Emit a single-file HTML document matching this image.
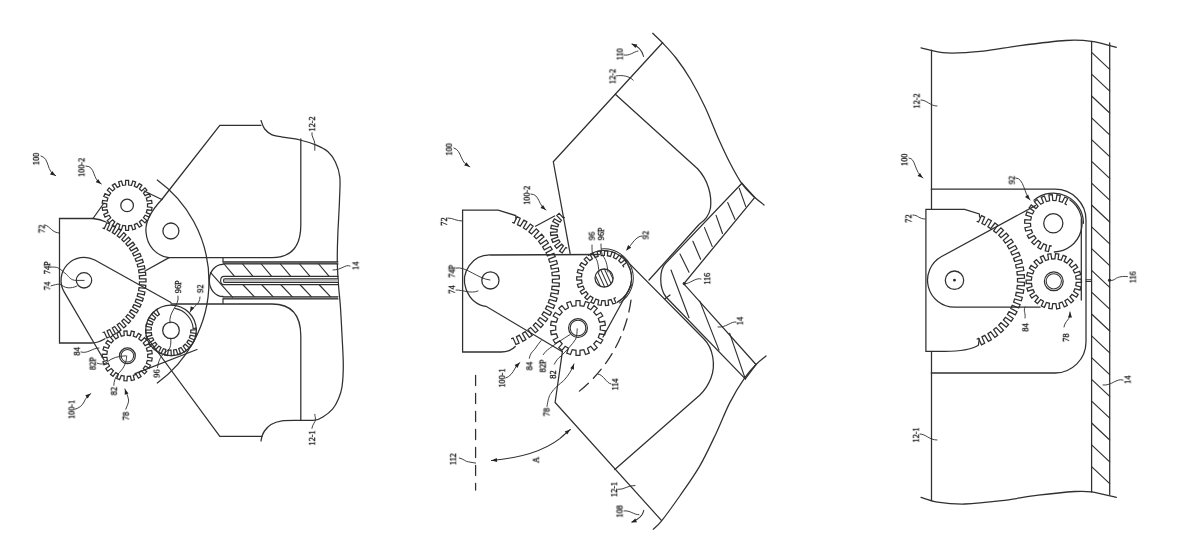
<!DOCTYPE html>
<html><head><meta charset="utf-8"><style>
html,body{margin:0;padding:0;background:#fff;width:1200px;height:543px;overflow:hidden}
svg{display:block}
svg path,svg circle{fill:none;stroke:#303030;stroke-linejoin:miter;stroke-miterlimit:3;stroke-linecap:round}
svg text{will-change:transform;font-family:"Liberation Serif",serif;fill:#111;stroke:#111;stroke-width:0.3px;text-anchor:middle;dominant-baseline:central}
</style></head><body>
<svg width="1200" height="543" viewBox="0 0 1200 543">
<path d="M161.8 199.5L219.8 125.3L261 125.3" stroke-width="1.26" />
<path d="M261 120.5C261.6 121.9 262.8 126.6 264.7 129C266.6 131.4 269.2 133.6 272.1 134.9C275.1 136.2 277.8 136.2 282.4 137.1C287 137.9 294.4 138.7 300 140C305.6 141.3 311.6 143.2 316.3 145.2C321 147.2 324.8 149 328 151.8C331.2 154.6 333.4 157.9 335.4 162.1C337.4 166.3 339.1 170.6 339.8 176.9C340.5 183.2 339.8 190.3 339.5 200C339.2 209.7 338.2 224.7 337.8 235C337.4 245.3 337.2 253.7 337.3 262C337.4 270.3 338 277.8 338.5 285C339 292.2 339.7 296.7 340.3 305C340.9 313.3 341.5 325 342 335C342.5 345 343.3 356.3 343.3 365C343.3 373.7 342.8 381.4 342 387C341.2 392.6 340 395.2 338.4 398.9C336.8 402.6 335 406.3 332.5 409.2C330 412.1 326.6 414.7 323.6 416.5C320.7 418.3 318.7 419.6 314.8 420.2C310.9 420.8 305.5 420.2 300 420.3C294.5 420.4 286.8 420.1 282 420.8C277.2 421.5 273.9 422.8 271 424.5C268.1 426.2 266 429 264.5 431C263 433 262.6 434.7 262 436.4C261.4 438.1 261.2 440.2 261 441" stroke-width="1.26" />
<path d="M262 436.4L219.8 436.4L146 336" stroke-width="1.26" />
<path d="M300.8 139L300.8 225C300.8 245 292 257.6 272 257.6L169 257.6" stroke-width="1.26" />
<path d="M300.8 420.3L300.8 336C300.8 316 292 304 272 304L171 304" stroke-width="1.26" />
<rect x="223" y="261.8" width="115" height="2.1" style="fill:#999;stroke:none"/>
<rect x="223" y="296.6" width="115" height="2.2" style="fill:#999;stroke:none"/>
<rect x="223" y="278.6" width="115" height="4.1" style="fill:#bbb;stroke:none"/>
<path d="M223 257.6L223 262M223 299L223 303.6" stroke-width="1.15" />
<path d="M223 261.8L338 261.8M223 263.9L338 263.9M223 296.7L338 296.7M223 298.9L338 298.9" stroke-width="1.15" />
<path d="M223 264.3A13.7 16.1 0 0 0 223 296.5" stroke-width="1.26" />
<path d="M338 276.4L224 276.4C219.5 276.4 219.5 284.6 224 284.6L338 284.6" stroke-width="1.15" />
<path d="M338 278.8L225 278.8C223 278.8 223 282.5 225 282.5L338 282.5" stroke-width="1.03" />
<path d="M224.1 264L234.1 275.8M242.6 264L252.6 275.8M261.3 264L271.3 275.8M280.4 264L290.4 275.8M299.6 264L309.6 275.8M318.7 264L328.7 275.8M243.2 285L254.2 296.7M262 285L273 296.7M281.1 285L292.1 296.7M300.3 285L311.3 296.7M319.4 285L330.4 296.7M210.6 272.7L232.5 297.2" stroke-width="1.15" />
<path d="M157.3 180A125.5 125.5 0 0 1 157.3 383" stroke-width="1.26" />
<path d="M93 218.5L59.5 218.5L59.5 343L91.5 343C96 343 101 341 105 338.7" stroke-width="1.26" />
<path d="M93 218.5C98 219 102 220 106 222" stroke-width="1.26" />
<path d="M93 218.5L104 203M144.2 191L161.8 199.5" stroke-width="1.26" />
<path d="M161.8 199.5C150 212 145 222 146 232C147 246 156 256 169 257.6" stroke-width="1.26" />
<circle cx="170.9" cy="231" r="8" stroke-width="1.26" />
<path d="M145 271L169 257.6" stroke-width="1.26" />
<path d="M147.5 206.9L152 207.5L151.6 210.4L147.1 209.8L146.3 212.6L150.4 214.4L149.2 217.1L145.1 215.2L143.5 217.7L146.9 220.6L145 222.9L141.6 219.9L139.4 221.8L141.9 225.6L139.3 227.2L136.9 223.4L134.3 224.6L135.6 228.9L132.7 229.8L131.5 225.4L128.6 225.8L128.6 230.4L125.6 230.4L125.6 225.8L122.7 225.4L121.5 229.8L118.6 228.9L119.9 224.6L117.3 223.4L114.9 227.2L112.3 225.6L114.8 221.8L112.6 219.9L109.2 222.9L107.3 220.6L110.7 217.7L109.1 215.2L105 217.1L103.8 214.4L107.9 212.6L107.1 209.8L102.6 210.4L102.2 207.5L106.7 206.9L106.7 203.9L102.2 203.3L102.6 200.4L107.1 201L107.9 198.2L103.8 196.4L105 193.7L109.1 195.6L110.7 193.1L107.3 190.2L109.2 187.9L112.6 190.9L114.8 189L112.3 185.2L114.9 183.6L117.3 187.4L119.9 186.2L118.6 181.9L121.5 181L122.7 185.4L125.6 185L125.6 180.4L128.6 180.4L128.6 185L131.5 185.4L132.7 181L135.6 181.9L134.3 186.2L136.9 187.4L139.3 183.6L141.9 185.2L139.4 189L141.6 190.9L145 187.9L146.9 190.2L143.5 193.1L145.1 195.6L149.2 193.7L150.4 196.4L146.3 198.2L147.1 201L151.6 200.4L152 203.3L147.5 203.9Z" stroke-width="1.26" />
<circle cx="127.1" cy="205.4" r="6.3" stroke-width="1.26" />
<path d="M103 228.1L104.3 228.6L106.9 222.7L109.7 223.9L107.1 229.8L109.7 231.1L112.8 225.4L115.5 226.9L112.3 232.6L114.7 234.1L118.5 228.8L121 230.5L117.2 235.9L119.5 237.6L123.8 232.7L126 234.7L121.8 239.6L123.8 241.6L128.6 237.2L130.6 239.5L125.9 243.9L127.7 246.1L132.9 242.2L134.7 244.6L129.5 248.5L131.1 250.9L136.7 247.6L138.2 250.2L132.6 253.5L133.9 256L139.8 253.4L141.1 256.1L135.2 258.8L136.2 261.5L142.4 259.4L143.3 262.3L137.2 264.4L137.9 267.1L144.3 265.7L144.9 268.7L138.6 270.1L139 272.9L145.5 272.2L145.8 275.2L139.3 275.9L139.5 278.8L146 278.8L146 281.8L139.5 281.8L139.3 284.7L145.8 285.4L145.5 288.4L139 287.7L138.6 290.5L144.9 291.9L144.3 294.9L137.9 293.5L137.2 296.2L143.3 298.3L142.4 301.2L136.2 299.1L135.2 301.8L141.1 304.5L139.8 307.2L133.9 304.6L132.6 307.1L138.2 310.4L136.7 313L131.1 309.7L129.5 312.1L134.7 316L132.9 318.4L127.7 314.5L125.9 316.7L130.6 321.1L128.6 323.4L123.8 319L121.8 321L126 325.9L123.8 327.9L119.5 323L117.2 324.7L121 330.1L118.5 331.8L114.7 326.5L112.3 328L115.5 333.7L112.8 335.2L109.7 329.5L107.1 330.8L109.7 336.7L106.9 337.9L104.3 332L103 332.5" stroke-width="1.26" />
<path d="M171 302.5L94.8 260A23 23 0 0 0 64.4 292.3L104 360" stroke-width="1.26" />
<circle cx="84" cy="280.3" r="7.7" stroke-width="1.26" />
<path d="M147.7 357.3L152.2 358L151.7 361.1L147.3 360.4L146.4 363.3L150.5 365.2L149.1 368L145.1 366.1L143.3 368.6L146.7 371.6L144.5 373.9L141.2 370.8L138.8 372.7L141.1 376.6L138.4 378.2L136.2 374.3L133.3 375.4L134.4 379.8L131.3 380.5L130.4 376.1L127.3 376.3L127 380.8L123.9 380.6L124.2 376.1L121.3 375.4L119.6 379.6L116.7 378.5L118.4 374.3L115.8 372.7L113 376.3L110.5 374.3L113.4 370.8L111.3 368.6L107.6 371.2L105.8 368.6L109.5 366.1L108.2 363.3L103.9 364.7L103 361.7L107.3 360.4L106.9 357.3L102.3 357.4L102.3 354.2L106.9 354.3L107.3 351.2L103 349.9L103.9 346.9L108.2 348.3L109.5 345.6L105.8 343L107.6 340.4L111.3 343L113.4 340.8L110.5 337.3L113 335.3L115.8 338.9L118.4 337.3L116.7 333.1L119.6 332L121.3 336.2L124.2 335.5L123.9 331L127 330.8L127.3 335.3L130.4 335.5L131.3 331.1L134.4 331.8L133.3 336.2L136.2 337.3L138.4 333.4L141.1 335L138.8 338.9L141.2 340.8L144.5 337.7L146.7 340L143.3 343L145.1 345.6L149.1 343.6L150.5 346.4L146.4 348.3L147.3 351.2L151.7 350.5L152.2 353.6L147.7 354.3Z" stroke-width="1.26" />
<circle cx="127.4" cy="355.8" r="7.9" stroke-width="1.26" />
<circle cx="127.4" cy="355.8" r="6.3" stroke-width="1.03" />
<circle cx="171" cy="330.4" r="25.3" stroke-width="1.26" />
<path d="M196.2 328.2L196.3 329.6L190.8 330L190.7 332.6L196.1 333.5L195.6 336.3L190.2 335.2L189.4 337.7L194.4 340L193.2 342.5L188.3 340.1L186.9 342.3L191.1 345.8L189.3 347.9L185.2 344.2L183.2 346L186.4 350.5L184.1 352.1L181 347.5L178.7 348.6L180.6 353.8L177.9 354.7L176.2 349.5L173.6 350L174.1 355.5L171.3 355.7L171 350.2L168.4 350L167.4 355.4L164.7 354.9L165.8 349.5L163.4 348.7L161 353.6L158.5 352.4L161 347.5L158.8 346L155.3 350.2L153.1 348.3L156.9 344.3L155.2 342.3L150.6 345.4L149.1 343L153.7 340.1L152.6 337.7L147.4 339.5L146.5 336.8L151.8 335.2L151.3 332.7L145.8 333L145.7 330.2L151.2 330L151.4 327.4L146 326.3L146.6 323.6L152 324.9L152.9 322.4L148 319.9L149.3 317.4L154.1 320.1L155.6 317.9L151.5 314.3L153.4 312.2L157.4 316L159.4 314.3L156.4 309.7L157.6 308.9" stroke-width="1.26" />
<circle cx="171" cy="330.4" r="8.3" stroke-width="1.26" />
<path d="M174.9 308.4A22.3 22.3 0 0 1 193.2 328.5" stroke-width="1.15" />
<path d="M193.2151417674459 328.4564269367272L196.20372586172115 328.19495970848425" stroke-width="1.15" />
<path d="M135 373.7L197 349.5" stroke-width="1.26" />
<text transform="translate(36 159) rotate(-90) scale(0.9 1)" font-size="9.2">100</text>
<path d="M41 156C50 158 46 172 55.7 175.7" stroke-width="0.92" />
<path d="M55.7 175.7L50 174.4L52.2 171.1Z" style="fill:#222;stroke:none"/>
<text transform="translate(81.4 167.4) rotate(-90) scale(0.9 1)" font-size="9.2">100-2</text>
<path d="M86 166C96 166 92 180 101.3 184" stroke-width="0.92" />
<path d="M101.3 184L95.8 182.3L98.1 179.1Z" style="fill:#222;stroke:none"/>
<text transform="translate(41.6 228.8) rotate(-90) scale(0.9 1)" font-size="9.2">72</text>
<path d="M45 225C50 226 52 233 59.5 233" stroke-width="0.92" />
<text transform="translate(47.1 267.7) rotate(-90) scale(0.9 1)" font-size="9.2">74P</text>
<path d="M50.4 267.1C53 267 56 267 57.6 267.7C61 269 63 272 66.4 274.3C69 277 71 280.4 76 280.4L84.1 280.4" stroke-width="0.92" />
<text transform="translate(47.1 285.9) rotate(-90) scale(0.9 1)" font-size="9.2">74</text>
<path d="M51 285.9C54 285 57 284 59.8 284.2C62 285 64 287.5 68 287.8C71 288 74 287.5 77 286" stroke-width="0.92" />
<text transform="translate(76.8 351.3) rotate(-90) scale(0.9 1)" font-size="9.2">84</text>
<path d="M81 352C88 354 92 348 99 348" stroke-width="0.92" />
<text transform="translate(92.6 363.5) rotate(-90) scale(0.9 1)" font-size="9.2">82P</text>
<path d="M97.3 363.2C100 364 103 365 107 362C112 358 118 356 125.8 355.8" stroke-width="0.92" />
<text transform="translate(113.8 391) rotate(-90) scale(0.9 1)" font-size="9.2">82</text>
<path d="M113.8 385.3C114 381 115 378 118 374C123 369 126.5 364 126.7 356" stroke-width="0.92" />
<text transform="translate(178.1 286.8) rotate(-90) scale(0.9 1)" font-size="9.2">96P</text>
<path d="M178 296C180 305 168 312 170 323" stroke-width="0.92" />
<text transform="translate(200.2 288.7) rotate(-90) scale(0.9 1)" font-size="9.2">92</text>
<path d="M200 297C200 305 193 306 190 312" stroke-width="0.92" />
<path d="M190 312L190.7 306.2L194.2 308Z" style="fill:#222;stroke:none"/>
<text transform="translate(156.6 373.5) rotate(-90) scale(0.9 1)" font-size="9.2">96</text>
<path d="M157.5 367.5C158 363 159.5 359 161.5 356.4C164 352 168 351 169.8 348.1C171 345 171 341 170.7 338.1" stroke-width="0.92" />
<text transform="translate(71.5 409.5) rotate(-90) scale(0.9 1)" font-size="9.2">100-1</text>
<path d="M75.1 409.2C79 408 82 406 84 402C86 398 87 396 90.8 393.6" stroke-width="0.92" />
<path d="M90.8 393.6L87.7 398.5L85.3 395.3Z" style="fill:#222;stroke:none"/>
<text transform="translate(125.8 416) rotate(-90) scale(0.9 1)" font-size="9.2">78</text>
<path d="M125.8 409.2C127 406 129 402 128.6 400C128 396 126 392 124.9 389" stroke-width="0.92" />
<path d="M124.9 389L128.5 393.6L124.7 394.8Z" style="fill:#222;stroke:none"/>
<text transform="translate(311.9 124) rotate(-90) scale(0.9 1)" font-size="9.2">12-2</text>
<path d="M311.9 132.7C311 136 314.8 140 314.8 143.7L314.8 150.3" stroke-width="0.92" />
<text transform="translate(311.9 438) rotate(-90) scale(0.9 1)" font-size="9.2">12-1</text>
<path d="M311.9 428.3C312.5 424 315.5 422 315.5 419.5C315.5 417 314.8 416 314.8 414.3" stroke-width="0.92" />
<text transform="translate(355.5 265.8) rotate(-90) scale(0.9 1)" font-size="9.2">14</text>
<path d="M350 266C345 264 342 270 333 270" stroke-width="0.92" />
<path d="M516 218.5L515.7 215.6L498.2 210.1L462.6 210.1L462.6 352L501 352C507 352 512 350 515.3 346.5" stroke-width="1.26" />
<circle cx="490.4" cy="280.4" r="8.6" stroke-width="1.26" />
<path d="M599.4 254.5L490.4 255A25.4 25.4 0 0 0 466 289C470 300 478 305.7 486 306.3L562.4 351.7" stroke-width="1.26" />
<path d="M512.6 222.5L514.1 223.1L517 216.7L520.2 218.2L517.4 224.6L520.3 226.1L523.9 220.1L526.9 221.8L523.4 227.9L526.1 229.7L530.3 224.1L533.1 226.2L528.9 231.8L531.5 233.9L536.3 228.9L538.8 231.2L534.1 236.4L536.3 238.7L541.7 234.2L543.9 236.9L538.6 241.4L540.6 244.1L546.4 240.1L548.4 243L542.6 247L544.3 249.8L550.5 246.5L552.2 249.6L546 252.9L547.4 255.9L553.9 253.4L555.2 256.6L548.7 259.2L549.7 262.3L556.5 260.5L557.4 263.9L550.6 265.8L551.3 269L558.3 267.9L558.8 271.4L551.9 272.5L552.2 275.7L559.2 275.5L559.4 278.9L552.4 279.3L552.4 282.6L559.3 283.1L559.1 286.5L552.1 286.1L551.7 289.4L558.6 290.6L558 294.1L551.1 292.9L550.4 296.1L557.1 298.1L556.1 301.4L549.4 299.5L548.3 302.6L554.7 305.3L553.4 308.5L546.9 305.9L545.5 308.8L551.6 312.2L549.9 315.3L543.8 311.9L542 314.7L547.7 318.8L545.7 321.6L540 317.6L537.9 320.2L543.2 324.9L540.8 327.5L535.6 322.9L533.3 325.2L538 330.4L535.4 332.7L530.6 327.6L528.1 329.6L532.2 335.3L529.3 337.4L525.2 331.7L522.4 333.5L525.9 339.6L522.8 341.3L519.3 335.2L516.4 336.7L519.1 343.1L515.9 344.5L513.1 338.1L511.6 338.7" stroke-width="1.26" />
<path d="M566.8 248L565.8 247.5L562.2 252.9L559.5 251L563.4 245.8L561.7 244.2L556.7 248.3L554.7 245.8L560 241.9L558.8 239.8L552.8 242.3L551.6 239.3L557.8 237.1L557.2 234.8L550.8 235.5L550.5 232.3L557 232L557.2 229.6L550.8 228.4L551.4 225.3L557.8 226.8L558.6 224.6L552.8 221.6L554.4 218.8L560 222.1L561.4 220.2L556.8 215.6L559.1 213.4L563.5 218.2L564.4 217.4" stroke-width="1.26" />
<path d="M554.6 216L535.5 226.2" stroke-width="1.26" />
<path d="M615.4 297.7L614 298.4L615.9 302.9L612.9 304L611.1 299.6L608.1 300.3L608.6 305.1L605.5 305.5L605 300.7L601.8 300.6L601.1 305.3L597.9 304.8L598.8 300.1L595.8 299.1L593.7 303.5L590.8 302.1L593 297.8L590.3 296L587.2 299.7L584.8 297.5L588 294L586 291.6L581.9 294.2L580.2 291.5L584.3 288.9L583 286.1L578.4 287.5L577.4 284.5L582.1 283.1L581.6 280L576.8 280.1L576.7 276.9L581.5 276.9L581.9 273.8L577.3 272.6L578.1 269.5L582.7 270.8L583.9 267.9L579.8 265.4L581.4 262.7L585.6 265.2L587.5 262.7L584.2 259.3L586.5 257.1L589.8 260.6L592.4 258.8L590.1 254.5L592.9 253.1L595.1 257.4L598.1 256.3L597.1 251.6L600.2 251L601.2 255.7L604.3 255.5L604.6 250.7L607.8 251L607.4 255.7L610.5 256.4L612.1 251.9L615.1 253L613.4 257.5L616.1 259L619 255.1L621.5 257L618.7 260.8L620.9 263L624.7 260L626.7 262.5L622.8 265.5L623.7 266.8" stroke-width="1.26" />
<path d="M627.8 264.4A27.4 27.4 0 0 1 617.8 301.8" stroke-width="1.15" />
<circle cx="604.1" cy="278.1" r="9.1" stroke-width="1.26" />
<clipPath id="c96"><circle cx="604.1" cy="278.1" r="9.1"/></clipPath>
<path d="M588 268L598 290M592 268L602 290M596 268L606 290M600 268L610 290M604 268L614 290M608 268L618 290M612 268L622 290" stroke-width="1.03"  clip-path="url(#c96)"/>
<path d="M600.3 330L605.4 330.8L604.7 334.7L599.6 333.8L598.3 337.5L602.8 340L600.7 343.5L596.3 340.8L593.8 343.8L597.2 347.7L594.1 350.3L590.8 346.3L587.5 348.3L589.3 353.1L585.5 354.5L583.8 349.6L580 350.3L580 355.4L576 355.4L576 350.3L572.2 349.6L570.5 354.5L566.7 353.1L568.5 348.3L565.2 346.3L561.9 350.3L558.8 347.7L562.2 343.8L559.7 340.8L555.3 343.5L553.2 340L557.7 337.5L556.4 333.8L551.3 334.7L550.6 330.8L555.7 330L555.7 326L550.6 325.2L551.3 321.3L556.4 322.2L557.7 318.5L553.2 316L555.3 312.5L559.7 315.2L562.2 312.2L558.8 308.3L561.9 305.7L565.2 309.7L568.5 307.7L566.7 302.9L570.5 301.5L572.2 306.4L576 305.7L576 300.6L580 300.6L580 305.7L583.8 306.4L585.5 301.5L589.3 302.9L587.5 307.7L590.8 309.7L594.1 305.7L597.2 308.3L593.8 312.2L596.3 315.2L600.7 312.5L602.8 316L598.3 318.5L599.6 322.2L604.7 321.3L605.4 325.2L600.3 326Z" stroke-width="1.26" />
<circle cx="578" cy="328" r="9.4" stroke-width="1.26" />
<circle cx="578" cy="328" r="7.8" stroke-width="1.03" />
<path d="M588.3 255.5A27.6 27.6 0 1 1 617.1 302.5" stroke-width="1.03" />
<path d="M601.5 248.9A29.3 29.3 0 0 1 619.6 302.9" stroke-width="1.03" />
<path d="M631.5 285L603 337" stroke-width="1.26" />
<path d="M570.1 253.4L553.3 161.8L662.5 42.8" stroke-width="1.26" />
<path d="M652.7 33.3C654.3 34.9 658.6 38.7 662.5 42.8C666.4 46.9 671.3 51.9 676 58C680.7 64.1 685.8 71.3 690.6 79.5C695.4 87.7 700.3 97.1 705 107C709.7 116.9 714.4 129.7 718.6 139C722.8 148.3 726.2 155.7 730 163C733.8 170.3 737.6 177.5 741.3 182.8C745 188.1 748.2 191.3 752 195C755.8 198.7 762 203.3 764 205" stroke-width="1.26" />
<path d="M615.3 94.2L697.6 168.8C708 180 712 195 710.5 208C709 216 705 220 699 224.5L649 280" stroke-width="1.26" />
<path d="M562.4 351.7L555.1 402.5L661.4 520.3" stroke-width="1.26" />
<path d="M653.3 529.2C654.7 527.8 657.2 526.4 661.6 520.9C666 515.4 673.4 505.1 679.8 496C686.1 486.9 693.6 476.6 699.7 466.1C705.8 455.6 711.3 443.4 716.3 432.9C721.3 422.4 724.9 412.2 729.6 403.1C734.3 394 740.1 384.6 744.5 378.2C748.9 371.8 752.4 368.2 756 364.5C759.6 360.8 764.3 357.4 766 356" stroke-width="1.26" />
<path d="M621.5 255.6L704 339C713 348 716 365 711 378C708 386 704 391 699.6 395.3L614.8 469.5" stroke-width="1.26" />
<path d="M741.9 183.2L665.8 263.1C659 270 659 288 666 297L745.3 378.9" stroke-width="1.26" />
<path d="M754.8 197.4L683.8 283.8L756 364.5" stroke-width="1.26" />
<path d="M741.9 183.2L754.8 197.4M745.3 378.9L756 364.5M665 298.7L670 295" stroke-width="1.26" />
<path d="M680 254L689 272.2M692.9 241.2L700.6 259.3M704.5 227.6L712.2 246.4M716.1 215.4L722.5 233.5M727.7 202.5L734.9 219.3M739.3 188.4L745.7 206.4" stroke-width="1.15" />
<path d="M671 270L689 317.8M699.8 301.1L719 350.1M729.7 333.4L745.3 378.9" stroke-width="1.15" />
<path d="M631 300.2A142 142 0 0 1 573.9 395.3" stroke-width="1.26" stroke-dasharray="12 7"/>
<path d="M475.6 375.5L475.6 490" stroke-width="1.26" stroke-dasharray="10 8"/>
<path d="M491.5 460.5C520 458 545 450 559.8 438.6C564 435 567 432 570.2 429.6" stroke-width="1.15" />
<path d="M491.5 460.5L491.5 460.5" stroke-width="1.15" />
<path d="M491.5 460.5L496.8 458.1L497.1 462.1Z" style="fill:#222;stroke:none"/>
<path d="M570.2 429.6L570.2 429.6" stroke-width="1.15" />
<path d="M570.2 429.6L567.2 434.6L564.7 431.5Z" style="fill:#222;stroke:none"/>
<text transform="translate(448.9 149.4) rotate(-90) scale(0.9 1)" font-size="9.2">100</text>
<path d="M454 148C462 150 460 164 469.8 166.8" stroke-width="0.92" />
<path d="M469.8 166.8L464.2 165.5L466.3 162.2Z" style="fill:#222;stroke:none"/>
<text transform="translate(443.9 221.5) rotate(-90) scale(0.9 1)" font-size="9.2">72</text>
<path d="M448 218C453 218 456 221 462.6 221" stroke-width="0.92" />
<text transform="translate(451.7 271.3) rotate(-90) scale(0.9 1)" font-size="9.2">74P</text>
<path d="M456 268C466 266 478 279 490 280" stroke-width="0.92" />
<text transform="translate(451.7 289.5) rotate(-90) scale(0.9 1)" font-size="9.2">74</text>
<path d="M456 290C464 290 470 294 478 291" stroke-width="0.92" />
<text transform="translate(526.7 195.3) rotate(-90) scale(0.9 1)" font-size="9.2">100-2</text>
<path d="M531 194C540 194 538 206 546 210" stroke-width="0.92" />
<path d="M546 210L540.5 208.1L543 205Z" style="fill:#222;stroke:none"/>
<text transform="translate(591.7 236) rotate(-90) scale(0.9 1)" font-size="9.2">96</text>
<path d="M592 245C592 252 592 254 594 256C598 260 598 264 599 272" stroke-width="0.92" />
<text transform="translate(600.9 234) rotate(-90) scale(0.9 1)" font-size="9.2">96P</text>
<path d="M601 244C601 252 602 254 603 256C606 260 607 264 608 272" stroke-width="0.92" />
<text transform="translate(645.5 235) rotate(-90) scale(0.9 1)" font-size="9.2">92</text>
<path d="M642 236C636 236 632 244 627 250" stroke-width="0.92" />
<path d="M626.2 250.6L628.1 245.1L631.2 247.7Z" style="fill:#222;stroke:none"/>
<text transform="translate(707.1 278.7) rotate(-90) scale(0.9 1)" font-size="9.2">116</text>
<path d="M701 279C696 277 690 284 684 284" stroke-width="0.92" />
<circle cx="684.2" cy="283.6" r="1.2" stroke-width="0.92" style="fill:#222"/>
<text transform="translate(739.8 321) rotate(-90) scale(0.9 1)" font-size="9.2">14</text>
<path d="M736 322C731 321 726 328 718 327" stroke-width="0.92" />
<text transform="translate(619.7 54.3) rotate(-90) scale(0.9 1)" font-size="9.2">110</text>
<path d="M624 55C630 56 633 52 638 51" stroke-width="0.92" />
<path d="M643.6 56.5C642 50 638 46 632 44" stroke-width="1.03" />
<path d="M631.5 43.8L637.3 44.4L635.5 48Z" style="fill:#222;stroke:none"/>
<text transform="translate(612.4 76.4) rotate(-90) scale(0.9 1)" font-size="9.2">12-2</text>
<path d="M616.6 75.8C622 75 630 76 633.1 80.2" stroke-width="0.92" />
<text transform="translate(501.9 378) rotate(-90) scale(0.9 1)" font-size="9.2">100-1</text>
<path d="M505.7 378C510 377 513 372 514.7 369C516 366 518 364 519.9 362.6" stroke-width="0.92" />
<path d="M519.9 362.6L517.4 367.9L514.6 365.1Z" style="fill:#222;stroke:none"/>
<text transform="translate(529.3 366) rotate(-90) scale(0.9 1)" font-size="9.2">84</text>
<path d="M529.3 358.3C530 354 532 352 534.5 349.5C537 346 539 343 541.1 340.6" stroke-width="0.92" />
<text transform="translate(542.6 366) rotate(-90) scale(0.9 1)" font-size="9.2">82P</text>
<path d="M543.3 354.6C545 352 547 350 549.2 348.7C555 344 563 339 569.8 334.7" stroke-width="0.92" />
<text transform="translate(552.9 374.5) rotate(-90) scale(0.9 1)" font-size="9.2">82</text>
<path d="M554.3 364.2C556 361 558 358 561 356.1C566 351 572 345 575.7 339.1C577 336 577 332 577.2 328.8" stroke-width="0.92" />
<text transform="translate(546.5 412) rotate(-90) scale(0.9 1)" font-size="9.2">78</text>
<path d="M547 406.4C548 400 549 396 550.8 393.5C554 388 560 384 563.7 380.6C568 376 572 370 574 363.9" stroke-width="0.92" />
<path d="M574 363.9L573.9 369.7L570.2 368.2Z" style="fill:#222;stroke:none"/>
<text transform="translate(615 384.5) rotate(-90) scale(0.9 1)" font-size="9.2">114</text>
<path d="M611 384C606 383 604 375 598 374" stroke-width="0.92" />
<text transform="translate(614 489.4) rotate(-90) scale(0.9 1)" font-size="9.2">12-1</text>
<path d="M617.9 489.4C624 490 628 485 635 485.5" stroke-width="0.92" />
<text transform="translate(619.5 511.4) rotate(-90) scale(0.9 1)" font-size="9.2">108</text>
<path d="M624 510.9C630 510 634 515 638.9 514.7" stroke-width="0.92" />
<path d="M643.8 510.3C643 515 639 519 632 522" stroke-width="1.03" />
<path d="M631.1 522.5L635.3 518.5L636.9 522.2Z" style="fill:#222;stroke:none"/>
<text transform="translate(452.9 459.2) rotate(-90) scale(0.9 1)" font-size="9.2">112</text>
<path d="M459.3 458C464 459 466 462 468.4 461.8C471 462 473 463 475.6 463.1" stroke-width="0.92" />
<text transform="translate(535.8 460) rotate(-90) scale(0.9 1)" font-size="9">A</text>
<path d="M921 47.8C925.3 48.6 936.3 52.3 946.7 52.9C957.1 53.5 971.1 52.3 983.3 51.1C995.5 49.9 1006.2 47.4 1020 45.6C1033.8 43.8 1053.9 41.2 1065.8 40.5C1077.7 39.8 1083.1 40.2 1091.5 41.4C1099.9 42.5 1112.2 46.4 1116.3 47.4" stroke-width="1.26" />
<path d="M921 497.4C923.8 498.2 930.2 501 937.5 502.1C944.8 503.2 954.3 504.2 965 504C975.7 503.8 989.5 502.2 1001.7 500.7C1013.9 499.2 1026.1 496.7 1038.3 495.2C1050.5 493.7 1066.1 492.1 1075 491.5C1083.9 490.9 1084.6 490.9 1091.5 491.9C1098.4 492.9 1112.2 496.5 1116.3 497.4" stroke-width="1.26" />
<path d="M931.5 50.2L931.5 209.4M931.5 351.3L931.5 500" stroke-width="1.26" />
<path d="M1091.6 41.4L1091.6 492M1109.7 43L1109.7 494.5" stroke-width="1.26" />
<path d="M1091.6 52.4L1109.7 69.4M1091.6 74.2L1109.7 91.2M1091.6 96L1109.7 113M1091.6 117.8L1109.7 134.8M1091.6 139.6L1109.7 156.6M1091.6 161.4L1109.7 178.4M1091.6 183.2L1109.7 200.2M1091.6 205L1109.7 222M1091.6 226.8L1109.7 243.8M1091.6 248.6L1109.7 265.6M1091.6 270.4L1109.7 287.4M1091.6 292.2L1109.7 309.2M1091.6 314L1109.7 331M1091.6 335.8L1109.7 352.8M1091.6 357.6L1109.7 374.6M1091.6 379.4L1109.7 396.4M1091.6 401.2L1109.7 418.2M1091.6 423L1109.7 440M1091.6 444.8L1109.7 461.8M1091.6 466.6L1109.7 483.6" stroke-width="1.15" />
<path d="M931.3 189.2L1055 189.2C1072 189.2 1086 203 1086 220L1086 342C1086 359 1072 373 1055 373L931.3 373" stroke-width="1.26" />
<path d="M1086 279.7L1091.6 279.7M1086 281.4L1091.6 281.4" stroke-width="1.03" />
<path d="M979.6 217L979.3 213.9L964.6 209.4L925.9 209.4L925.9 351.3L945 351.3C960 351.3 972 349 978.4 345.2L979.3 338.8" stroke-width="1.26" />
<circle cx="954.5" cy="280.2" r="9.2" stroke-width="1.26" />
<circle cx="954.5" cy="280.2" r="0.9" stroke-width="1.03" style="fill:#222"/>
<path d="M1035.4 205.6L941.6 256.5A27 27 0 0 0 954.5 307.2L1040 307.2" stroke-width="1.26" />
<path d="M1081.3 219L1081.3 300" stroke-width="1.26" />
<path d="M977.1 221.4L978.6 222L981.5 215.6L984.7 217.1L981.9 223.5L984.8 225L988.4 219L991.4 220.7L987.9 226.8L990.7 228.6L994.9 223L997.7 225.1L993.6 230.8L996.1 232.9L1000.9 227.8L1003.5 230.2L998.7 235.3L1001 237.7L1006.3 233.2L1008.6 235.8L1003.4 240.4L1005.4 243.1L1011.2 239.1L1013.2 242L1007.4 246L1009.1 248.8L1015.3 245.5L1017 248.7L1010.8 252L1012.2 255L1018.7 252.4L1020.1 255.7L1013.6 258.3L1014.6 261.5L1021.4 259.6L1022.3 263L1015.6 264.9L1016.3 268.1L1023.2 267L1023.8 270.5L1016.9 271.7L1017.3 275L1024.3 274.6L1024.5 278.1L1017.5 278.5L1017.5 281.9L1024.5 282.3L1024.3 285.8L1017.3 285.4L1016.9 288.7L1023.8 289.9L1023.2 293.4L1016.3 292.3L1015.6 295.5L1022.3 297.4L1021.4 300.8L1014.6 298.9L1013.6 302.1L1020.1 304.7L1018.7 308L1012.2 305.4L1010.8 308.4L1017 311.7L1015.3 314.9L1009.1 311.6L1007.4 314.4L1013.2 318.4L1011.2 321.3L1005.4 317.3L1003.4 320L1008.6 324.6L1006.3 327.2L1001 322.7L998.7 325.1L1003.5 330.2L1000.9 332.6L996.1 327.5L993.6 329.6L997.7 335.3L994.9 337.4L990.7 331.8L987.9 333.6L991.4 339.7L988.4 341.4L984.8 335.4L981.9 336.9L984.7 343.3L981.5 344.8L978.6 338.4L977.1 339" stroke-width="1.26" />
<path d="M1051.3 246L1049.7 245.8L1048.5 251.6L1045.2 250.8L1046.6 245.1L1043.6 243.9L1040.8 249.1L1037.8 247.5L1040.8 242.4L1038.2 240.4L1034.1 244.6L1031.7 242.2L1036 238.1L1034.1 235.6L1028.9 238.4L1027.3 235.5L1032.5 232.7L1031.4 229.7L1025.7 231.1L1024.9 227.7L1030.7 226.6L1030.5 223.4L1024.6 223.1L1024.8 219.7L1030.7 220.2L1031.4 217L1025.8 215.1L1027 211.9L1032.5 214L1034 211.2L1029.2 207.8L1031.2 205L1035.9 208.6L1038.1 206.3L1034.4 201.7L1037.1 199.6L1040.7 204.3L1043.5 202.7L1041.2 197.3L1044.4 196L1046.4 201.6L1049.6 200.8L1048.9 194.9L1052.3 194.6L1052.8 200.5L1056 200.7L1057 194.8L1060.3 195.5L1059.1 201.3L1062.2 202.3L1064.8 197L1067.8 198.5L1065 203.7L1066.4 204.6" stroke-width="1.26" />
<path d="M1069.8 199.8A28.7 28.7 0 0 1 1054.3 252" stroke-width="1.26" />
<circle cx="1053.3" cy="223.3" r="9.6" stroke-width="1.26" />
<path d="M1075.8 285.6L1080.9 286.9L1080.1 290.1L1074.9 288.7L1073.7 291.6L1078.2 294.4L1076.5 297.2L1072 294.4L1070 296.8L1073.6 300.7L1071.1 302.9L1067.6 299L1064.9 300.7L1067.3 305.5L1064.3 306.9L1062.1 302.1L1059 303.1L1059.9 308.3L1056.7 308.9L1055.9 303.6L1052.7 303.7L1052.1 308.9L1048.8 308.5L1049.5 303.3L1046.4 302.4L1044.4 307.3L1041.3 306L1043.5 301.2L1040.7 299.5L1037.4 303.6L1034.9 301.5L1038.3 297.5L1036.1 295.1L1031.8 298.1L1029.9 295.3L1034.4 292.4L1033 289.6L1027.9 291.2L1026.9 288.1L1032 286.5L1031.5 283.4L1026.2 283.5L1026.1 280.2L1031.4 280.2L1031.8 277L1026.7 275.7L1027.5 272.5L1032.7 273.9L1033.9 271L1029.4 268.2L1031.1 265.4L1035.6 268.2L1037.6 265.8L1034 261.9L1036.5 259.7L1040 263.6L1042.7 261.9L1040.3 257.1L1043.3 255.7L1045.5 260.5L1048.6 259.5L1047.7 254.3L1050.9 253.7L1051.7 259L1054.9 258.9L1055.5 253.7L1058.8 254.1L1058.1 259.3L1061.2 260.2L1063.2 255.3L1066.3 256.6L1064.1 261.4L1066.9 263.1L1070.2 259L1072.7 261.1L1069.3 265.1L1071.5 267.5L1075.8 264.5L1077.7 267.3L1073.2 270.2L1074.6 273L1079.7 271.4L1080.7 274.5L1075.6 276.1L1076.1 279.2L1081.4 279.1L1081.5 282.4L1076.2 282.4Z" stroke-width="1.26" />
<circle cx="1053.8" cy="281.3" r="9.4" stroke-width="1.26" />
<circle cx="1053.8" cy="281.3" r="7.6" stroke-width="1.03" />
<path d="M1033.9 200.2A30.2 30.2 0 0 1 1083.5 223.3" stroke-width="1.15" />
<text transform="translate(904.3 159.8) rotate(-90) scale(0.9 1)" font-size="9.2">100</text>
<path d="M909 158C916 158 914 172 923 178" stroke-width="0.92" />
<path d="M923 178L917.5 176.1L920 173Z" style="fill:#222;stroke:none"/>
<text transform="translate(916.5 101) rotate(-90) scale(0.9 1)" font-size="9.2">12-2</text>
<path d="M921 100C927 100 930 106 937 106" stroke-width="0.92" />
<text transform="translate(1011.7 180) rotate(-90) scale(0.9 1)" font-size="9.2">92</text>
<path d="M1016 178C1024 178 1024 194 1030 200" stroke-width="0.92" />
<path d="M1030 200L1025 197L1028.1 194.5Z" style="fill:#222;stroke:none"/>
<text transform="translate(908.4 218.5) rotate(-90) scale(0.9 1)" font-size="9.2">72</text>
<path d="M913 215C918 215 919 219 925 219" stroke-width="0.92" />
<text transform="translate(1025.3 327.4) rotate(-90) scale(0.9 1)" font-size="9.2">84</text>
<path d="M1025 318C1026 313 1023 312 1025 307" stroke-width="0.92" />
<text transform="translate(1065.9 337.6) rotate(-90) scale(0.9 1)" font-size="9.2">78</text>
<path d="M1064 327C1065 320 1071 320 1070 312" stroke-width="0.92" />
<path d="M1070 312L1072 317.5L1068 317.5Z" style="fill:#222;stroke:none"/>
<text transform="translate(1132.7 277.3) rotate(-90) scale(0.9 1)" font-size="9.2">116</text>
<path d="M1127.5 276.6C1122 276 1119 277 1116.6 278C1114 280 1112 281 1109.7 280.3" stroke-width="0.92" />
<circle cx="1109.5" cy="280.3" r="1.2" stroke-width="0.92" style="fill:#222"/>
<text transform="translate(1127.5 379.7) rotate(-90) scale(0.9 1)" font-size="9.2">14</text>
<path d="M1123 380C1116 378 1112 386 1103 385" stroke-width="0.92" />
<text transform="translate(915.8 435) rotate(-90) scale(0.9 1)" font-size="9.2">12-1</text>
<path d="M920 434C926 434 929 440 937 440" stroke-width="0.92" />
</svg></body></html>
